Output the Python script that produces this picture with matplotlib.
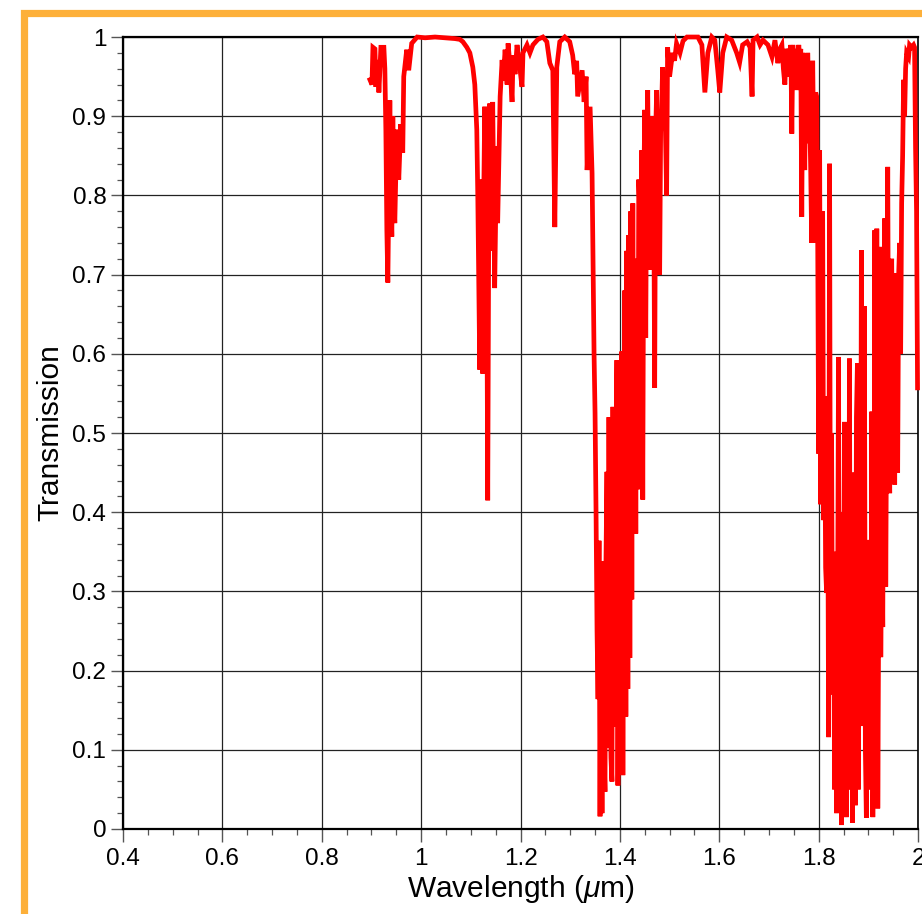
"""Atmospheric transmission spectrum, 0.4-2.0 um."""
import numpy as np
import matplotlib
matplotlib.use("Agg")
import matplotlib.pyplot as plt
from matplotlib.patches import Rectangle
from matplotlib.ticker import MultipleLocator, FormatStrFormatter

plt.rcParams["font.family"] = ["Liberation Sans", "DejaVu Sans"]
plt.rcParams["mathtext.fontset"] = "custom"
plt.rcParams["mathtext.it"] = "Liberation Sans:italic"
plt.rcParams["mathtext.rm"] = "Liberation Sans"

# band 1: 0.9 - 1.11 um
wl_a = [0.897, 0.901, 0.903, 0.907, 0.909, 0.913, 0.915, 0.919, 0.925, 0.927,
        0.929, 0.931, 0.933, 0.935, 0.937, 0.939, 0.941, 0.943, 0.945, 0.947,
        0.951, 0.955, 0.959, 0.963, 0.965, 0.971, 0.975, 0.981, 0.992, 1.008,
        1.028, 1.048, 1.068, 1.078, 1.084, 1.092, 1.098, 1.104, 1.108, 1.112,
        1.114]
tr_a = [0.946, 0.940, 0.987, 0.985, 0.937, 0.971, 0.930, 0.987, 0.987, 0.960,
        0.882, 0.756, 0.690, 0.800, 0.920, 0.800, 0.748, 0.900, 0.800, 0.765,
        0.883, 0.820, 0.890, 0.854, 0.950, 0.984, 0.958, 0.992, 1.000, 0.999,
        1.000, 0.999, 0.998, 0.997, 0.994, 0.987, 0.980, 0.962, 0.940, 0.883,
        0.800]

# band 2: 1.11 - 1.345 um
wl_b = [1.116, 1.118, 1.120, 1.122, 1.124, 1.126, 1.128, 1.130, 1.132, 1.134,
        1.136, 1.138, 1.140, 1.142, 1.144, 1.146, 1.148, 1.152, 1.154, 1.159,
        1.163, 1.165, 1.169, 1.173, 1.175, 1.179, 1.183, 1.185, 1.189, 1.193,
        1.197, 1.203, 1.205, 1.213, 1.219, 1.225, 1.235, 1.245, 1.253, 1.259,
        1.265, 1.269, 1.273, 1.279, 1.289, 1.299, 1.305, 1.309, 1.313, 1.315,
        1.324, 1.328, 1.332, 1.334, 1.340, 1.344]
tr_b = [0.690, 0.580, 0.750, 0.820, 0.575, 0.800, 0.912, 0.700, 0.735, 0.415,
        0.750, 0.916, 0.800, 0.730, 0.918, 0.800, 0.683, 0.862, 0.765, 0.925,
        0.971, 0.945, 0.984, 0.940, 0.992, 0.962, 0.918, 0.977, 0.953, 0.990,
        0.970, 0.937, 0.980, 0.990, 0.980, 0.990, 0.997, 1.000, 0.994, 0.967,
        0.958, 0.760, 0.962, 0.994, 1.000, 0.994, 0.977, 0.953, 0.970, 0.925,
        0.958, 0.918, 0.950, 0.832, 0.912, 0.828]

# band 3: 1.345 - 1.54 um
wl_c = [1.346, 1.348, 1.350, 1.352, 1.354, 1.356, 1.358, 1.360, 1.362, 1.364,
        1.366, 1.368, 1.370, 1.372, 1.374, 1.376, 1.378, 1.380, 1.382, 1.384,
        1.386, 1.388, 1.390, 1.392, 1.394, 1.396, 1.398, 1.400, 1.402, 1.404,
        1.406, 1.408, 1.410, 1.412, 1.414, 1.416, 1.418, 1.420, 1.422, 1.424,
        1.426, 1.428, 1.430, 1.432, 1.434, 1.436, 1.438, 1.440, 1.442, 1.444,
        1.446, 1.448, 1.450, 1.452, 1.454, 1.456, 1.458, 1.460, 1.462, 1.464,
        1.466, 1.468, 1.470, 1.472, 1.474, 1.476, 1.478, 1.480, 1.482, 1.484,
        1.486, 1.488, 1.490, 1.494, 1.496, 1.500, 1.506, 1.510, 1.514, 1.521,
        1.527, 1.535]
tr_c = [0.710, 0.600, 0.525, 0.400, 0.250, 0.164, 0.364, 0.016, 0.300, 0.020,
        0.338, 0.100, 0.047, 0.340, 0.451, 0.103, 0.520, 0.200, 0.090, 0.060,
        0.533, 0.250, 0.129, 0.450, 0.592, 0.055, 0.400, 0.120, 0.550, 0.603,
        0.068, 0.450, 0.680, 0.142, 0.730, 0.177, 0.750, 0.216, 0.780, 0.290,
        0.790, 0.429, 0.700, 0.373, 0.720, 0.429, 0.820, 0.780, 0.550, 0.857,
        0.416, 0.800, 0.908, 0.620, 0.860, 0.933, 0.780, 0.706, 0.880, 0.750,
        0.900, 0.820, 0.557, 0.880, 0.933, 0.800, 0.860, 0.700, 0.880, 0.910,
        0.962, 0.900, 0.940, 0.800, 0.987, 0.950, 0.980, 0.970, 0.992, 0.980,
        0.995, 1.000]

# band 4: 1.54 - 1.79 um
wl_d = [1.541, 1.557, 1.565, 1.571, 1.577, 1.585, 1.591, 1.597, 1.601, 1.607,
        1.615, 1.625, 1.635, 1.641, 1.647, 1.656, 1.662, 1.666, 1.668, 1.676,
        1.682, 1.688, 1.698, 1.706, 1.712, 1.718, 1.722, 1.726, 1.729, 1.732,
        1.735, 1.738, 1.740, 1.742, 1.744, 1.746, 1.748, 1.750, 1.752, 1.754,
        1.756, 1.758, 1.760, 1.762, 1.764, 1.766, 1.768, 1.770, 1.772, 1.774,
        1.776, 1.778, 1.780, 1.782, 1.784, 1.786, 1.788, 1.790, 1.792]
tr_d = [1.000, 1.000, 0.990, 0.930, 0.980, 1.000, 0.996, 0.958, 0.930, 0.980,
        1.000, 0.996, 0.980, 0.968, 0.990, 0.994, 0.987, 0.925, 0.996, 1.000,
        0.990, 0.996, 0.990, 0.975, 0.996, 0.967, 0.985, 0.990, 0.960, 0.940,
        0.985, 0.980, 0.950, 0.960, 0.990, 0.878, 0.990, 0.970, 0.950, 0.985,
        0.933, 0.975, 0.990, 0.970, 0.985, 0.773, 0.980, 0.940, 0.832, 0.950,
        0.866, 0.980, 0.930, 0.900, 0.832, 0.740, 0.970, 0.860, 0.740]

# band 5: 1.79 - 2.0 um
wl_e = [1.794, 1.796, 1.798, 1.800, 1.802, 1.804, 1.806, 1.808, 1.810, 1.812,
        1.814, 1.816, 1.818, 1.820, 1.822, 1.824, 1.826, 1.828, 1.830, 1.832,
        1.834, 1.836, 1.838, 1.840, 1.842, 1.844, 1.846, 1.848, 1.850, 1.852,
        1.854, 1.856, 1.858, 1.860, 1.862, 1.864, 1.866, 1.868, 1.870, 1.872,
        1.874, 1.876, 1.878, 1.880, 1.882, 1.884, 1.886, 1.888, 1.890, 1.892,
        1.894, 1.896, 1.898, 1.900, 1.903, 1.905, 1.907, 1.909, 1.911, 1.913,
        1.915, 1.917, 1.919, 1.921, 1.923, 1.925, 1.927, 1.929, 1.931, 1.933,
        1.935, 1.937, 1.939, 1.941, 1.943, 1.945, 1.947, 1.949, 1.951, 1.953,
        1.955, 1.957, 1.959, 1.961, 1.963, 1.965, 1.967, 1.969, 1.971, 1.973,
        1.975, 1.977, 1.981, 1.983, 1.987, 1.991, 1.993, 1.995, 1.997, 1.999]
tr_e = [0.930, 0.925, 0.756, 0.474, 0.857, 0.410, 0.588, 0.780, 0.390, 0.546,
        0.330, 0.298, 0.504, 0.116, 0.840, 0.170, 0.500, 0.171, 0.350, 0.050,
        0.300, 0.020, 0.250, 0.596, 0.045, 0.400, 0.005, 0.250, 0.100, 0.514,
        0.080, 0.015, 0.386, 0.100, 0.594, 0.050, 0.300, 0.008, 0.200, 0.450,
        0.030, 0.520, 0.588, 0.050, 0.450, 0.130, 0.731, 0.150, 0.400, 0.660,
        0.100, 0.014, 0.300, 0.131, 0.365, 0.050, 0.527, 0.015, 0.200, 0.756,
        0.050, 0.758, 0.026, 0.300, 0.735, 0.217, 0.400, 0.255, 0.600, 0.771,
        0.306, 0.550, 0.836, 0.500, 0.424, 0.650, 0.720, 0.490, 0.700, 0.435,
        0.620, 0.702, 0.450, 0.700, 0.740, 0.600, 0.790, 0.850, 0.946, 0.900,
        0.960, 0.980, 0.975, 0.990, 0.987, 0.990, 0.987, 0.860, 0.780, 0.557]

wavelength = np.concatenate([wl_a, wl_b, wl_c, wl_d, wl_e])
transmission = np.concatenate([tr_a, tr_b, tr_c, tr_d, tr_e])

fig = plt.figure(figsize=(9.22, 9.14), dpi=100)
ax = fig.add_axes([0.1334, 0.093, 0.8623, 0.8665])

# orange frame (cropped at right and bottom)
fig.patches.append(Rectangle((23.5 / 922, -0.1), 1.2, 1.1 - 13.5 / 914,
                             transform=fig.transFigure, fill=False,
                             edgecolor="#FDB03A", linewidth=5.2, zorder=0))

ax.plot(wavelength, transmission, color="#FF0000", lw=3.4, clip_on=False,
        solid_joinstyle="miter", zorder=3)

ax.set_xlim(0.4, 2.0)
ax.set_ylim(0, 1)
ax.xaxis.set_major_locator(MultipleLocator(0.2))
ax.xaxis.set_minor_locator(MultipleLocator(0.05))
ax.yaxis.set_major_locator(MultipleLocator(0.1))
ax.yaxis.set_minor_locator(MultipleLocator(0.02))
ax.xaxis.set_major_formatter(FormatStrFormatter("%g"))
ax.yaxis.set_major_formatter(FormatStrFormatter("%g"))

ax.grid(True, which="major", color="#222222", lw=0.9)
ax.tick_params(which="major", direction="out", length=9, width=1.0,
               color="#555555", labelsize=17.5, pad=3)
ax.tick_params(which="minor", direction="out", length=4.5, width=0.9,
               color="#555555")
ax.tick_params(axis="x", which="major", pad=5)
ax.tick_params(right=False, top=False)
for side in ["left", "bottom", "top"]:
    ax.spines[side].set_linewidth(1.6)
ax.spines["right"].set_linewidth(1.2)

ax.set_xlabel(r"Wavelength ($\mu$m)", fontsize=21.5, labelpad=2)
ax.set_ylabel("Transmission", fontsize=21.5, labelpad=6)

fig.savefig("out.png", dpi=100)
